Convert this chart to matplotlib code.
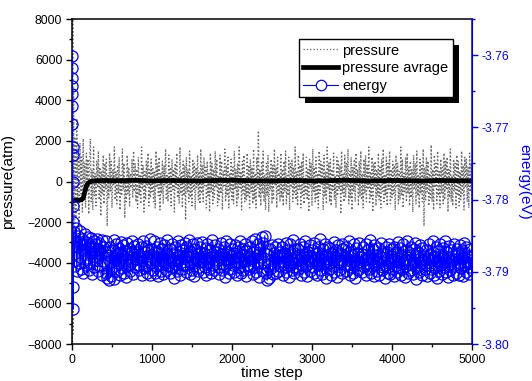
import matplotlib
matplotlib.use("Agg")
import matplotlib.pyplot as plt
from matplotlib.lines import Line2D
from matplotlib.patches import Rectangle
from matplotlib.transforms import IdentityTransform
from matplotlib.ticker import MultipleLocator

plt.rcParams['font.family'] = ['Liberation Sans', 'DejaVu Sans']

# pressure (atm), sampled every 10 steps after a short start-up
press_t = [0, 5, 10, 15, 20, 25] + list(range(30, 5001, 10))
press_val = [
    9500, -9500, 8000, -7500, 4500, -3000,
    -4200, 2200, -1800, 3100, -900, 1500, -2400, 1900, -600, 1200, -1500, 2100, -800, 900, -1300, 1400, -500, 1100, -1600, 800,
    2100, -1000, 600, -1400, 1700, -700, 400, -1200, 1000, -300, 1500, -900, 700, -1700, 500, -600, 1300, -1100, 900, -400,
    1100, -2200, 300, -800, 1400, -500, 1000, -1300, 600, -200, 1700, -900, 500, -1100, 800, -600, 1200, -1400, 300, -700,
    1600, -400, 900, -1800, 200, -1000, 1300, -600, 700, -1200, 400, -300, 1100, -800, 1500, -500, 900, -1000, 600, -1300,
    1200, -700, 300, -1100, 1700, -400, 800, -1500, 500, -900, 1000, -200, 1400, -1200, 600, -800, 1100, -500, 700, -1000,
    500, -1300, 1500, -300, 900, -700, 1200, -1400, 400, -600, 1000, -1100, 800, -200, 1600, -900, 300, -1000, 1300, -500,
    700, -1200, 1100, -400, 600, -1500, 900, -300, 1400, -800, 200, -1100, 1700, -600, 500, -1300, 1000, -700, 800, -1900,
    1200, -500, 600, -1000, 1500, -800, 300, -1200, 1100, -400, 900, -1400, 700, -300, 1300, -900, 500, -1100, 1600, -600,
    800, -1000, 1200, -200, 700, -1300, 1000, -700, 400, -1500, 1400, -500, 900, -1100, 600, -800, 1500, -300, 1100, -1200,
    300, -900, 1300, -600, 1000, -1400, 500, -200, 1600, -1000, 800, -700, 1200, -1300, 400, -500, 1100, -900, 700, -1100,
    1500, -400, 600, -1200, 900, -800, 1700, -300, 500, -1400, 1000, -600, 1300, -1000, 200, -900, 1400, -700, 800, -1300,
    1100, -500, 700, -1100, 1600, -900, 400, -1300, 1200, -300, 2500, -800, 600, -1200, 1000, -600, 1500, -1000, 300, -1400,
    900, -700, 1300, -1500, 500, -400, 1100, -1100, 800, -900, 1600, -200, 700, -1300, 1200, -600, 400, -1000, 1400, -800,
    600, -1200, 1000, -500, 1500, -1100, 300, -700, 1200, -1400, 900, -300, 1100, -1000, 700, -600, 1700, -900, 500, -1200,
    1300, -400, 800, -1300, 1000, -700, 1400, -1100, 200, -600, 1200, -900, 600, -1500, 1100, -300, 900, -1200, 1600, -500,
    700, -1000, 1200, -800, 400, -1300, 1500, -600, 1000, -200, 800, -1400, 1300, -700, 500, -1100, 1700, -400, 900, -1000,
    1100, -1200, 600, -500, 1400, -900, 300, -1300, 1200, -700, 1000, -400, 800, -1600, 1500, -600, 400, -1000, 1300, -800,
    900, -300, 1600, -1100, 500, -800, 1200, -1400, 700, -500, 1100, -1000, 1400, -200, 600, -1200, 1000, -700, 1500, -900,
    400, -1300, 1100, -600, 1300, -1000, 800, -400, 1700, -1100, 500, -800, 1200, -1500, 900, -300, 1000, -1200, 600, -700,
    1400, -900, 700, -1300, 1100, -500, 1600, -1000, 300, -700, 1200, -1200, 900, -400, 1500, -1100, 600, -800, 1000, -600,
    800, -1400, 1300, -300, 900, -1100, 500, -900, 1700, -700, 1100, -1300, 400, -500, 1200, -1000, 1400, -600, 700, -1200,
    1000, -800, 600, -1500, 1300, -400, 900, -1100, 1500, -700, 300, -1300, 1100, -600, 800, -1000, 1600, -2200, 700, -900,
    1200, -500, 1000, -1200, 400, -800, 1800, -1000, 600, -1400, 1300, -300, 900, -1100, 1500, -700, 500, -1300, 1100, -600,
    700, -1100, 1400, -900, 1000, -400, 1200, -1500, 600, -800, 1600, -1000, 300, -1200, 1100, -500, 900, -1300, 1300, -700,
    1000, -1200, 500, -900, 1500, -600, 800, -1400, 1200, -300, 1100, -1000, 700, -1300, 1400, -500, 900, -1100,
]

# running average of the pressure
avg_t = [0, 40, 80, 120, 140, 160, 180, 200, 230, 260, 300] + list(range(400, 5001, 200))
avg_val = [
    -950, -930, -920, -900, -820, -520, -230, -80, 0, 30, 40,
    50, 40, 60, 30, 50, 40, 30, 50, 60, 40, 30, 40,
    50, 30, 40, 60, 40, 30, 50, 40, 30, 50, 40, 30,
]

# total energy: start-up values in eV, then deviations below -3.78 eV in units of 1e-4 eV
energy_t = list(range(14)) + list(range(20, 5001, 10))
energy_start = [
    -3.7601, -3.7618, -3.7632, -3.7643, -3.7654, -3.7671, -3.7696,
    -3.7727, -3.7738, -3.7775, -3.7809, -3.7831, -3.7921, -3.7952,
]
energy_dev = [
    45, 92, 58, 40, 99, 66, 50, 88, 43, 96, 62, 54, 101, 70, 47, 90, 59, 81, 52, 97,
    64, 87, 53, 103, 74, 57, 94, 61, 83, 55, 99, 68, 60, 92, 76, 56, 105, 66, 85, 71,
    58, 101, 108, 77, 112, 86, 65, 106, 70, 93, 56, 110, 81, 62, 99, 74, 88, 67, 104, 59,
    95, 77, 63, 102, 84, 71, 107, 60, 91, 79, 68, 99, 86, 57, 103, 75, 64, 94, 82, 72,
    90, 62, 98, 78, 66, 105, 85, 58, 95, 73, 92, 64, 102, 70, 83, 55, 104, 88, 68, 97,
    78, 58, 101, 84, 65, 106, 72, 91, 60, 99, 81, 69, 103, 63, 87, 76, 97, 56, 92, 79,
    68, 102, 82, 61, 94, 74, 108, 65, 89, 99, 57, 84, 77, 104, 63, 96, 70, 90, 80, 60,
    100, 66, 91, 78, 56, 103, 86, 72, 97, 62, 88, 106, 69, 81, 60, 99, 75, 94, 65, 87,
    82, 59, 100, 74, 93, 67, 104, 61, 87, 96, 70, 79, 102, 56, 90, 77, 98, 63, 85, 72,
    94, 69, 103, 80, 60, 97, 75, 89, 65, 107, 57, 91, 83, 72, 101, 62, 96, 78, 68, 90,
    74, 100, 63, 87, 104, 66, 80, 93, 58, 102, 77, 69, 98, 85, 61, 106, 71, 90, 78, 96,
    65, 92, 83, 57, 103, 72, 94, 54, 100, 77, 88, 62, 107, 68, 80, 52, 98, 60, 86, 50,
    75, 102, 112, 92, 109, 69, 96, 83, 63, 103, 74, 90, 66, 101, 80, 61, 99, 72, 92, 78,
    86, 65, 105, 77, 94, 60, 100, 82, 70, 107, 62, 91, 74, 98, 56, 88, 102, 68, 80, 93,
    69, 96, 83, 61, 104, 78, 90, 66, 100, 57, 92, 76, 106, 72, 85, 63, 99, 80, 70, 94,
    60, 101, 82, 74, 105, 65, 91, 86, 55, 97, 77, 103, 69, 89, 62, 108, 78, 85, 66, 96,
    88, 67, 104, 76, 92, 59, 100, 80, 70, 107, 63, 86, 98, 74, 83, 61, 102, 69, 91, 78,
    99, 65, 90, 82, 57, 105, 72, 94, 77, 101, 62, 85, 108, 67, 91, 74, 97, 60, 87, 80,
    76, 100, 66, 93, 83, 104, 61, 88, 70, 96, 78, 56, 102, 82, 68, 106, 63, 90, 77, 99,
    86, 67, 105, 80, 60, 97, 73, 94, 84, 109, 65, 91, 72, 101, 62, 83, 103, 78, 68, 96,
    66, 106, 83, 76, 100, 59, 93, 86, 67, 104, 78, 96, 61, 88, 107, 70, 82, 57, 101, 89,
    77, 97, 65, 91, 103, 68, 86, 60, 110, 80, 94, 73, 100, 63, 88, 105, 67, 84, 78, 96,
    90, 70, 106, 82, 62, 101, 75, 96, 84, 58, 104, 78, 93, 66, 108, 86, 71, 99, 61, 91,
    80, 103, 67, 94, 57, 100, 83, 73, 107, 64, 89, 97, 70, 85, 105, 62, 92, 78, 101, 68,
    88, 75, 104, 63, 95, 81, 70, 106, 60, 91, 100, 66, 86, 78, 103, 68, 93, 80, 97,
]
energy_val = energy_start + [-3.78 - d * 1e-4 for d in energy_dev]

BLUE = '#0000ff'
GRAY = '#6a6a6a'

fig = plt.figure(figsize=(5.32, 3.81), dpi=100)
ax = fig.add_axes([0.1353, 0.0971, 0.7519, 0.853])
ax2 = ax.twinx()

ax.plot(press_t, press_val, ls=':', lw=1.0, color=GRAY)
ax.plot(avg_t, avg_val, '-', lw=3.4, color='black', solid_capstyle='butt')
ax2.plot(energy_t, energy_val, '-', lw=0.8, color=BLUE, marker='o',
         ms=8.0, mfc='none', mec=BLUE, mew=0.9)

ax.set_xlim(0, 5000)
ax.set_ylim(-8000, 8000)
ax2.set_ylim(-3.80, -3.755)

ax.xaxis.set_major_locator(MultipleLocator(1000))
ax.xaxis.set_minor_locator(MultipleLocator(500))
ax.yaxis.set_major_locator(MultipleLocator(2000))
ax.yaxis.set_minor_locator(MultipleLocator(1000))
ax2.yaxis.set_major_locator(MultipleLocator(0.01))
ax2.yaxis.set_minor_locator(MultipleLocator(0.005))
ax2.yaxis.set_major_formatter(plt.FuncFormatter(lambda v, p: f"{v:.2f}"))

ax.tick_params(which='both', direction='out', top=False, right=False,
               labelsize=8.7, width=1, pad=3)
ax.tick_params(which='major', length=4)
ax.tick_params(which='minor', length=2.5)
ax2.tick_params(which='both', direction='out', colors=BLUE, labelsize=8.7, width=1, pad=3)
ax2.tick_params(which='major', length=4)
ax2.tick_params(which='minor', length=2.5)

for s in ['left', 'bottom', 'top']:
    ax.spines[s].set_linewidth(1.1)
ax2.spines['right'].set_color(BLUE)
ax2.spines['right'].set_linewidth(1.1)
for s in ['left', 'bottom', 'top']:
    ax2.spines[s].set_visible(False)

ax.set_xlabel("time step", fontsize=11)
ax.xaxis.set_label_coords(0.5, -0.068)
ax.set_ylabel("pressure(atm)", fontsize=11)
ax.yaxis.set_label_coords(-0.142, 0.5)
ax2.set_ylabel("energy(eV)", fontsize=11, color=BLUE, rotation=270, va='center')
ax2.yaxis.set_label_coords(1.132, 0.5)

handles = [
    Line2D([], [], ls=':', lw=0.9, color=GRAY),
    Line2D([], [], ls='-', lw=3.4, color='black'),
    Line2D([], [], ls='-', lw=0.8, color=BLUE, marker='o', ms=7.5,
           mfc='white', mec=BLUE, mew=0.9),
]
labels = ["pressure", "pressure avrage", "energy"]
leg = ax2.legend(handles, labels, loc='upper right', bbox_to_anchor=(0.9525, 0.938),
                 borderaxespad=0, fancybox=False, edgecolor='black', framealpha=1,
                 fontsize=10.5, handlelength=2.4, handletextpad=0.3,
                 labelspacing=0.25, borderpad=0.3)
leg.get_frame().set_linewidth(1.0)
leg.set_zorder(10)

# Origin-style solid black shadow behind the legend box
fig.canvas.draw()
bb = leg.get_window_extent(fig.canvas.get_renderer())
shadow = Rectangle((bb.x0 + 6, bb.y0 - 6), bb.width, bb.height, transform=IdentityTransform(),
                   facecolor='black', edgecolor='none', zorder=9, clip_on=False)
ax2.add_artist(shadow)

fig.savefig("out.png", dpi=100)
